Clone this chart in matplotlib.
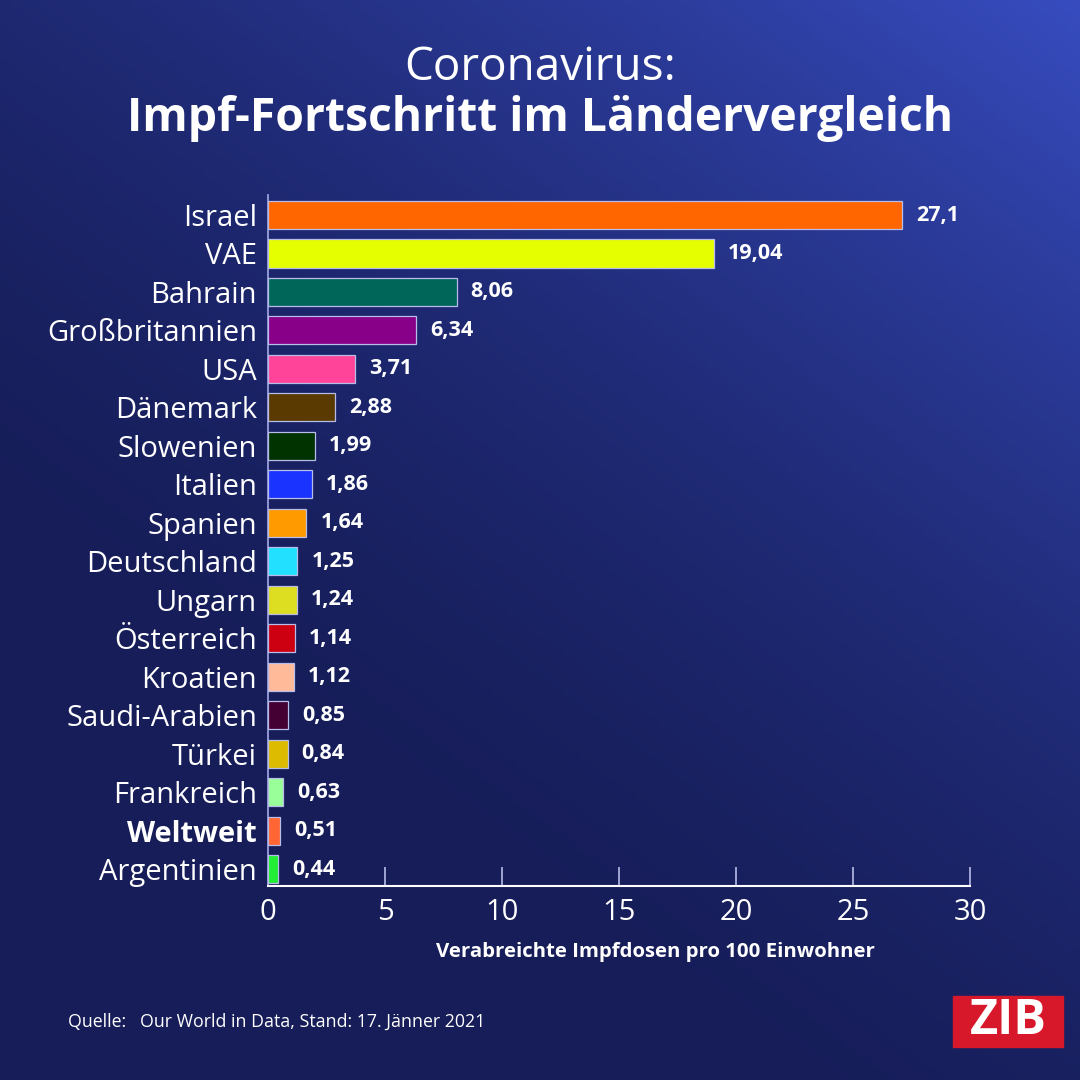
import numpy as np
import matplotlib
matplotlib.use("Agg")
import matplotlib.pyplot as plt
from matplotlib.patches import Rectangle

countries = ["Israel", "VAE", "Bahrain", "Großbritannien", "USA", "Dänemark",
             "Slowenien", "Italien", "Spanien", "Deutschland", "Ungarn",
             "Österreich", "Kroatien", "Saudi-Arabien", "Türkei", "Frankreich",
             "Weltweit", "Argentinien"]
values = [27.1, 19.04, 8.06, 6.34, 3.71, 2.88, 1.99, 1.86, 1.64, 1.25, 1.24,
          1.14, 1.12, 0.85, 0.84, 0.63, 0.51, 0.44]
value_labels = ["27,1", "19,04", "8,06", "6,34", "3,71", "2,88", "1,99", "1,86",
                "1,64", "1,25", "1,24", "1,14", "1,12", "0,85", "0,84", "0,63",
                "0,51", "0,44"]
colors = ["#ff6600", "#e6ff00", "#00665a", "#880088", "#ff4499", "#5a3a00",
          "#003300", "#1a33ff", "#ff9a00", "#22e0ff", "#dddd22", "#cc0011",
          "#ffbb99", "#440033", "#ddbb00", "#99ff99", "#ff6633", "#22ee33"]
xticks = [0, 5, 10, 15, 20, 25, 30]

FONT = ["Open Sans", "DejaVu Sans"]
plt.rcParams["font.family"] = FONT

fig = plt.figure(figsize=(10.8, 10.8), dpi=100)

# background gradient
bg = fig.add_axes([0, 0, 1, 1])
bg.set_axis_off()
n = 300
yy, xx = np.mgrid[0:1:n * 1j, 0:1:n * 1j]  # yy=0 bottom
t = np.clip(0.55 * xx + 0.75 * yy - 0.35, 0, 1) ** 1.6
c0 = np.array([0x16, 0x1d, 0x58]) / 255
c1 = np.array([0x3a, 0x50, 0xc8]) / 255
img = c0[None, None, :] * (1 - t[..., None]) + c1[None, None, :] * t[..., None]
bg.imshow(img, origin="lower", extent=[0, 1, 0, 1], aspect="auto")
bg.set_xlim(0, 1)
bg.set_ylim(0, 1)

ax = fig.add_axes([268 / 1080, 1 - 886 / 1080, (970 - 268) / 1080, (886 - 195) / 1080])
ax.patch.set_alpha(0)
npos = len(countries)
ypos = np.arange(npos)[::-1]
ax.barh(ypos, values, height=0.73, color=colors, edgecolor="#b8bce8", linewidth=0.9, zorder=3)
ax.set_xlim(0, 30)
ax.set_ylim(-0.44, npos - 1 + 0.52)

for y, v, lab in zip(ypos, values, value_labels):
    ax.text(v + 0.6, y, lab, va="center", ha="left", color="white",
            fontsize=15.5, fontweight="bold")

ax.set_yticks(ypos)
ax.set_yticklabels(countries)
for lab in ax.get_yticklabels():
    lab.set_color("white")
    lab.set_fontsize(21)
    if lab.get_text() == "Weltweit":
        lab.set_fontweight("bold")
ax.tick_params(axis="y", length=0, pad=8)

ax.set_xticks(xticks)
ax.set_xticklabels([str(x) for x in xticks])
ax.tick_params(axis="x", direction="in", length=14, width=1.2, color="#b8bce8",
               labelsize=21, labelcolor="white", pad=9)

for s in ["top", "right"]:
    ax.spines[s].set_visible(False)
ax.spines["bottom"].set_color("white")
ax.spines["bottom"].set_linewidth(1.5)
ax.spines["left"].set_color("#9aa0dd")
ax.spines["left"].set_linewidth(1.3)

fig.text(655 / 1080, 1 - 952 / 1080, "Verabreichte Impfdosen pro 100 Einwohner",
         ha="center", va="center", color="white", fontsize=14.7, fontweight="bold")

fig.text(0.5, 1 - 68 / 1080, "Coronavirus:", ha="center", va="center",
         color="white", fontsize=33)
fig.text(0.5, 1 - 118 / 1080, "Impf-Fortschritt im Ländervergleich", ha="center",
         va="center", color="white", fontsize=33.3, fontweight="bold")

fig.text(68 / 1080, 1 - 1022 / 1080, "Quelle:   Our World in Data, Stand: 17. Jänner 2021",
         ha="left", va="center", color="white", fontsize=12.8)

# ZIB logo
bg.add_patch(Rectangle((953 / 1080, 1 - 1047 / 1080), 110 / 1080, 51 / 1080,
                       transform=fig.transFigure, color="#d7182a", zorder=5))
fig.text(1008 / 1080, 1 - 1022 / 1080, "ZIB", ha="center", va="center",
         color="white", fontsize=35, fontweight="bold", zorder=6)

fig.savefig("out.png", dpi=100)
